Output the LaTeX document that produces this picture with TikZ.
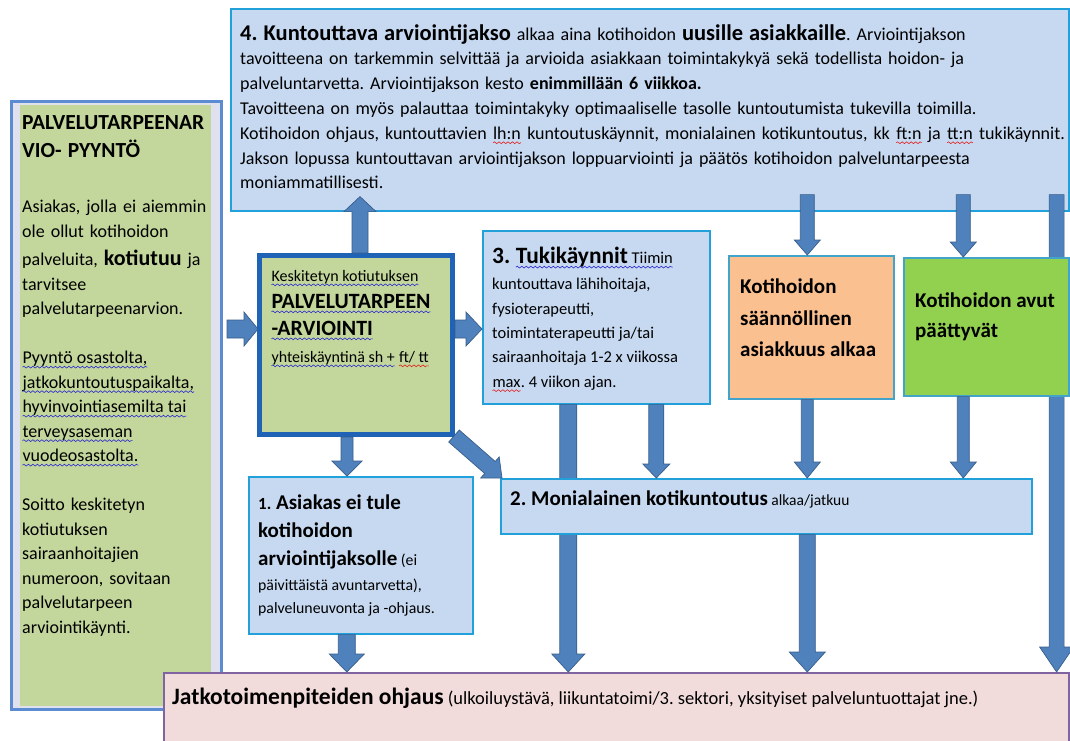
\documentclass[tikz,border=0pt]{standalone}
\usepackage{fontspec}
\setmainfont{Carlito}
\usetikzlibrary{calc, decorations.pathmorphing}

\definecolor{vaalsin}{HTML}{C6D9F1}
\definecolor{reunasin}{HTML}{22A0DA}
\definecolor{tummasin}{HTML}{1E63B5}
\definecolor{vasensin}{HTML}{5B8BD0}
\definecolor{laventeli}{HTML}{DFE1EF}
\definecolor{vihrea}{HTML}{C3D69B}
\definecolor{oranssi}{HTML}{FAC090}
\definecolor{kirkas}{HTML}{92D050}
\definecolor{turkoosi}{HTML}{42A3CB}
\definecolor{pinkki}{HTML}{F2DCDB}
\definecolor{violetti}{HTML}{8064A2}
\definecolor{nuolisin}{HTML}{4F81BD}
\definecolor{nuolireuna}{HTML}{385D8A}
\definecolor{aaltosin}{HTML}{2B2BD0}
\definecolor{aaltopun}{HTML}{E02020}

\newcommand\aalto[2]{\tikz[baseline=(sana.base)]{\node[inner sep=0pt, outer sep=0pt, anchor=base west] (sana) at (0pt,0pt) {#2};
  \draw[#1, line width=0.6pt, decorate, decoration={snake, amplitude=0.9pt, segment length=4.5pt}]
    ([yshift=-3.5pt]sana.base west) -- ([yshift=-3.5pt]sana.base east);}}
\newcommand\wavb[1]{\aalto{aaltosin}{#1}}
\newcommand\wavr[1]{\aalto{aaltopun}{#1}}

\newcommand\iso[1][21]{\fontsize{#1}{24}\selectfont\bfseries}

\newcommand\nuoli[5]{%
  \filldraw[nuoli] let \p1=(#1), \p2=(#2), \n1={atan2(\y2-\y1,\x2-\x1)}, \n2={veclen(\x2-\x1,\y2-\y1)} in
    {[shift={(\p1)}, rotate=\n1]
    (0pt,-#3) -- ({\n2-#5},-#3) -- ({\n2-#5},-#4) -- ({\n2+0pt},0pt)
    -- ({\n2-#5},#4) -- ({\n2-#5},#3) -- (0pt,#3) -- cycle};}

\frenchspacing

\begin{document}
\begin{tikzpicture}[x=1pt, y=-1pt,
    laatikko/.style={draw=reunasin, line width=1.6pt, fill=vaalsin, anchor=north west, inner sep=0pt},
    teksti/.style={anchor=north west, inner sep=0pt, align=left},
    nuoli/.style={fill=nuolisin, draw=nuolireuna, line width=0.7pt}]
            \useasboundingbox (0,0) rectangle (1070,740);

            \node[laatikko, minimum width=838pt, minimum height=202pt] (kunt) at (230,8) {};
            \node[laatikko, draw=vasensin, line width=3pt, fill=laventeli, minimum width=210pt, minimum height=608pt] (pyynto) at (10,100) {};
            \fill[vihrea] ([shift={(10,5)}]pyynto.north west) rectangle ([shift={(-12,-5)}]pyynto.south east);
            \node[teksti, text width=830pt, font=\fontsize{18}{24.8}\selectfont] (kunt-t) at (240,24) {%
              {\iso[22.5]4. Kuntouttava arviointijakso} alkaa aina kotihoidon {\iso[22.5]uusille asiakkaille}. Arviointijakson\\
              tavoitteena on tarkemmin selvittää ja arvioida asiakkaan toimintakykyä sekä todellista hoidon- ja\\
              palveluntarvetta. Arviointijakson kesto \textbf{enimmillään 6 viikkoa.}\\
              Tavoitteena on myös palauttaa toimintakyky optimaaliselle tasolle kuntoutumista tukevilla toimilla.\\
              Kotihoidon ohjaus, kuntouttavien \wavr{lh:n} kuntoutuskäynnit, monialainen kotikuntoutus, kk \wavr{ft:n} ja \wavr{tt:n} tukikäynnit.\\
              Jakson lopussa kuntouttavan arviointijakson loppuarviointi ja päätös kotihoidon palveluntarpeesta\\
              moniammatillisesti.};
            \node[teksti, text width=186pt, font=\fontsize{18}{24.5}\selectfont] (pyynto-t) at (22,115) {%
              {\fontsize{21.5}{28}\selectfont\bfseries PALVELUTARPEENAR\\VIO- PYYNTÖ\par}
              \vspace{31pt}
              Asiakas, jolla ei aiemmin\\ole ollut kotihoidon\\[4pt]
              palveluita, {\fontsize{22}{24}\selectfont\bfseries kotiutuu} ja\\tarvitsee\\palvelutarpeenarvion.\\[24.5pt]
              \wavb{Pyyntö osastolta,}\\\wavb{jatkokuntoutuspaikalta,}\\\wavb{hyvinvointiasemilta tai}\\\wavb{terveysaseman}\\\wavb{vuodeosastolta.}\\[24.5pt]
              Soitto keskitetyn\\kotiutuksen\\sairaanhoitajien\\numeroon, sovitaan\\palvelutarpeen\\arviointikäynti.};

            \node[laatikko, draw=tummasin, line width=5pt, fill=vihrea, minimum width=193pt, minimum height=179pt] (arvio) at (257,253) {};
            \node[laatikko, minimum width=227pt, minimum height=173pt] (tuki) at (482,230) {};
            \node[laatikko, draw=turkoosi, fill=oranssi, minimum width=165pt, minimum height=143pt] (saann) at (728,255) {};
            \node[laatikko, minimum width=224pt, minimum height=157pt] (eitule) at (248,476) {};
            \node[laatikko, draw=violetti, fill=pinkki, minimum width=905pt, minimum height=90pt] (jatko) at (163,672) {};

            \nuoli{$(kunt.south east)+(-13pt,17pt)$}{$(kunt.south east|-jatko.north)+(-13pt,0pt)$}{7.5pt}{17pt}{25pt}
            \nuoli{$(tuki.south)+(-28pt,0pt)$}{$(tuki.south|-jatko.north)+(-28pt,0pt)$}{8.5pt}{16.5pt}{18pt}

            \node[laatikko, draw=turkoosi, fill=kirkas, minimum width=165pt, minimum height=138pt] (paattyy) at (903,257) {};
            \node[laatikko, minimum width=531pt, minimum height=55pt] (moni) at (500,478) {};

            \node[teksti, font=\fontsize{16}{27}\selectfont] (arvio-t) at (271,270) {%
              \wavb{Keskitetyn kotiutuksen}\\
              {\iso[21.8]\wavb{PALVELUTARPEEN}}\\
              {\iso[21.8]\wavb{-ARVIOINTI}}\\
              \wavb{yhteiskäyntinä sh +} \wavr{ft/ tt}};
            \node[teksti, font=\fontsize{16.5}{24.3}\selectfont] (tuki-t) at (492,247) {%
              {\iso[23.4]3. }\wavb{{\iso[23.4]Tukikäynnit} Tiimin}\\[2pt]
              kuntouttava lähihoitaja,\\fysioterapeutti,\\toimintaterapeutti ja/tai\\sairaanhoitaja 1-2 x viikossa\\
              \wavr{max}. 4 viikon ajan.};
            \node[teksti, font=\fontsize{21}{31.5}\selectfont\bfseries] (saann-t) at (740,279) {Kotihoidon\\säännöllinen\\asiakkuus alkaa};
            \node[teksti, font=\fontsize{21}{30}\selectfont\bfseries] (paattyy-t) at (915,293) {Kotihoidon avut\\päättyvät};
            \node[teksti, font=\fontsize{15.8}{25}\selectfont] (eitule-t) at (258,495) {%
              {\iso{\fontsize{17}{20}\selectfont 1.} Asiakas ei tule}\\[3pt]
              {\iso kotihoidon}\\[3pt]
              {\iso arviointijaksolle} (ei\\
              päivittäistä avuntarvetta),\\[-2pt]
              palveluneuvonta ja -ohjaus.};
            \node[teksti, font=\fontsize{15.5}{20}\selectfont] (moni-t) at (510,491) {{\iso 2. Monialainen kotikuntoutus} alkaa/jatkuu};
            \node[teksti, font=\fontsize{18.5}{20}\selectfont] (jatko-t) at (172,688) {{\iso[23.5]Jatkotoimenpiteiden ohjaus} (ulkoiluystävä, liikuntatoimi/3. sektori, yksityiset palveluntuottajat jne.)};

            \nuoli{$(pyynto.east|-arvio.west)+(4pt,16pt)$}{$(arvio.west)+(1pt,16pt)$}{9pt}{17pt}{14pt}
            \nuoli{$(arvio.east)+(0pt,16pt)$}{$(arvio.east-|tuki.west)+(0pt,16pt)$}{9pt}{17pt}{16pt}
            \nuoli{$(arvio.north)+(4pt,0pt)$}{$(arvio.north|-kunt.south)+(4pt,15pt)$}{8pt}{16pt}{15pt}
            \nuoli{$(saann.north|-kunt.south)+(-4pt,17pt)$}{$(saann.north)+(-4pt,0pt)$}{7pt}{13pt}{15pt}
            \nuoli{$(paattyy.north|-kunt.south)+(-23pt,17pt)$}{$(paattyy.north)+(-23pt,0pt)$}{7pt}{13pt}{15pt}
            \nuoli{$(tuki.south)+(60pt,0pt)$}{$(tuki.south|-moni.north)+(60pt,0pt)$}{7.5pt}{13.5pt}{14pt}
            \nuoli{$(saann.south)+(-4pt,0pt)$}{$(saann.south|-moni.north)+(-4pt,0pt)$}{6pt}{13pt}{16pt}
            \nuoli{$(paattyy.south)+(-23pt,0pt)$}{$(paattyy.south|-moni.north)+(-23pt,0pt)$}{6pt}{13pt}{16pt}
            \nuoli{$(moni.south-|saann.south)+(-4pt,0pt)$}{$(saann.south|-jatko.north)+(-4pt,0pt)$}{8pt}{18pt}{20pt}
            \nuoli{$(arvio.south)+(-9pt,0pt)$}{$(arvio.south|-eitule.north)+(-9pt,0pt)$}{6pt}{15pt}{15pt}
            \nuoli{$(eitule.south)+(-14pt,0pt)$}{$(eitule.south|-jatko.north)+(-14pt,0pt)$}{8.5pt}{17.5pt}{18pt}
            \nuoli{$(arvio.south east)+(-1pt,1pt)$}{$(moni.north west)+(2pt,0pt)$}{8pt}{14pt}{16pt}
        \end{tikzpicture}
\end{document}
